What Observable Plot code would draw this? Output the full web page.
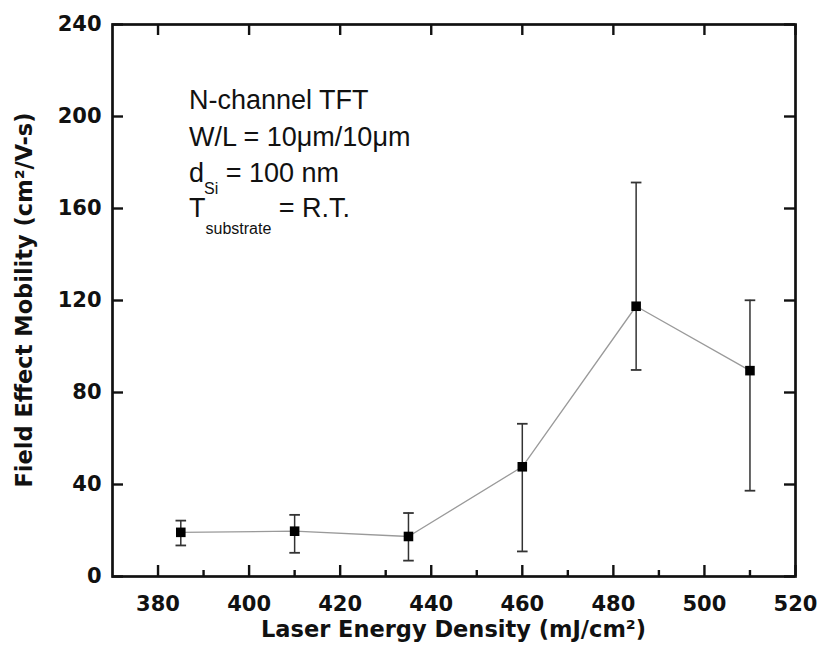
<!DOCTYPE html>
<html><head><meta charset="utf-8">
<script src="https://cdn.jsdelivr.net/npm/d3@7"></script>
<script src="https://cdn.jsdelivr.net/npm/@observablehq/plot@0.6"></script>
<style>body{margin:0;background:#fff}#chart svg{display:block}</style>
</head><body><div id="chart"></div>
<script>
const energy = [385, 410, 435, 460, 485, 510];
const mobility = [19.2, 19.7, 17.4, 47.7, 117.5, 89.5];
const errLow = [13.5, 10.3, 6.9, 10.9, 89.8, 37.3];
const errHigh = [24.3, 26.8, 27.6, 66.4, 171.3, 120.1];
const xMajorTicks = [380, 400, 420, 440, 460, 480, 500, 520];
const xMinorTicks = [390, 410, 430, 450, 470, 490, 510];
const yTicks = [0, 40, 80, 120, 160, 200, 240];
const xTitle = "Laser Energy Density (mJ/cm²)";
const yTitle = "Field Effect Mobility (cm²/V-s)";

const data = energy.map((e, i) => ({energy: e, mobility: mobility[i], lo: errLow[i], hi: errHigh[i]}));

const W = 820, H = 664, mL = 112, mR = 25, mT = 24, mB = 88;
const fw = W - mL - mR, fh = H - mT - mB;
const major = 11, minor = 6;
const tickStroke = {stroke: "#111", strokeWidth: 2.4};
const capSymbol = {draw(ctx, size) { const w = Math.sqrt(size / Math.PI); ctx.moveTo(-w, 0); ctx.lineTo(w, 0); }};

const plot = Plot.plot({
  width: W, height: H,
  marginLeft: mL, marginRight: mR, marginTop: mT, marginBottom: mB,
  style: {fontFamily: "'DejaVu Sans', sans-serif", color: "#111", background: "#fff"},
  x: {domain: [370, 520], label: null},
  y: {domain: [0, 240], label: null},
  marks: [
    Plot.ruleX(xMajorTicks, {...tickStroke, insetTop: fh - major}),
    Plot.ruleX(xMinorTicks, {...tickStroke, insetTop: fh - minor}),
    Plot.ruleX(xMajorTicks, {...tickStroke, insetBottom: fh - major}),
    Plot.ruleY(yTicks, {...tickStroke, insetRight: fw - major}),
    Plot.ruleY(yTicks, {...tickStroke, insetLeft: fw - major}),
    Plot.axisX(xMajorTicks, {tickSize: 0, tickPadding: 20, label: null, fontSize: 21, fontWeight: "bold"}),
    Plot.axisY(yTicks, {tickSize: 0, tickPadding: 11, label: null, fontSize: 21, fontWeight: "bold"}),
    Plot.line(data, {x: "energy", y: "mobility", stroke: "#9a9a9a", strokeWidth: 1.3}),
    Plot.ruleX(data, {x: "energy", y1: "lo", y2: "hi", stroke: "#333", strokeWidth: 1.5}),
    Plot.dot(data, {x: "energy", y: "lo", symbol: capSymbol, r: 5.3, stroke: "#333", strokeWidth: 1.8, fill: "none"}),
    Plot.dot(data, {x: "energy", y: "hi", symbol: capSymbol, r: 5.3, stroke: "#333", strokeWidth: 1.8, fill: "none"}),
    Plot.dot(data, {x: "energy", y: "mobility", symbol: "square", r: 5.4, fill: "#000", stroke: "none"}),
    Plot.frame({stroke: "#111", strokeWidth: 2.7})
  ]
});
document.getElementById("chart").append(plot);

const svg = d3.select(plot);
const xr = plot.scale("x").range, yr = plot.scale("y").range;
const bold = {"font-family": "'DejaVu Sans', sans-serif", "font-weight": "bold", "font-size": 22.5, fill: "#111"};
const xt = svg.append("text").attr("x", (xr[0] + xr[1]) / 2).attr("y", 637).attr("text-anchor", "middle").text(xTitle);
const yt = svg.append("text").attr("transform", `translate(32,${(yr[0] + yr[1]) / 2}) rotate(-90)`).attr("text-anchor", "middle").text(yTitle);
for (const t of [xt, yt]) for (const [k, v] of Object.entries(bold)) t.attr(k, v);

const note = svg.append("g").attr("font-family", "'Liberation Sans', Arial, sans-serif").attr("font-size", 27).attr("fill", "#111").attr("text-anchor", "start");
note.append("text").attr("x", 189).attr("y", 109).text("N-channel TFT");
note.append("text").attr("x", 189).attr("y", 146).text("W/L = 10μm/10μm");
const l3 = note.append("text").attr("x", 189).attr("y", 182);
l3.append("tspan").text("d");
l3.append("tspan").attr("dy", 12).attr("font-size", 16).text("Si");
l3.append("tspan").attr("dy", -12).text(" = 100 nm");
const l4 = note.append("text").attr("x", 189).attr("y", 217);
l4.append("tspan").text("T");
l4.append("tspan").attr("dy", 17).attr("font-size", 16).text("substrate");
l4.append("tspan").attr("dy", -17).text(" = R.T.");
</script>
</body></html>
